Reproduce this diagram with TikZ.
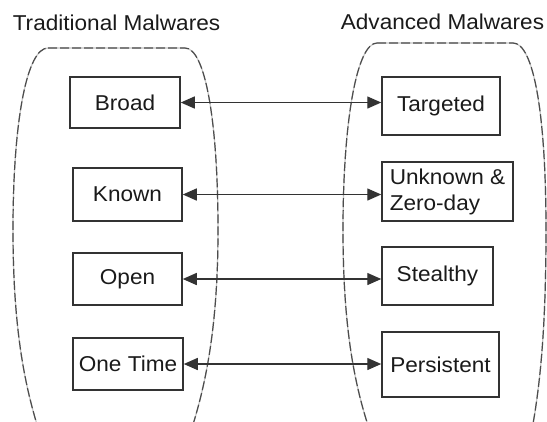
\documentclass[tikz,border=0pt]{standalone}
\usepackage{fontspec}
\setmainfont[FakeStretch=1.05]{Liberation Sans}
\usetikzlibrary{arrows.meta}
\definecolor{ink}{HTML}{1A1A1A}
\definecolor{edge}{HTML}{333333}
\tikzset{
  px/.style={x=1pt,y=-1pt},
  label text/.style={font=\fontsize{21.5}{26}\selectfont, text=ink},
  itembox/.style={draw=edge, line width=1.5pt, fill=white, inner sep=4pt,
    label text},
  grouphalo/.style={draw=black!22, line width=1.2pt},
  groupline/.style={draw=black!70, line width=1.2pt, dash pattern=on 9pt off 3pt},
  link/.style={draw=edge, line width=1.4pt,
    {Triangle[length=14pt,width=12pt]}-{Triangle[length=14pt,width=12pt]}},
}
\begin{document}
\begin{tikzpicture}[px]
\useasboundingbox (0,0) rectangle (547,421);
\fill[white] (0,0) rectangle (547,421);

% group outlines (open towards the bottom edge)
\begin{scope}
\clip (0,0) rectangle (547,421);
\def\leftgroup{(48,48) -- (185,48) .. controls (205,48) and (218,120) .. (218,230)
  .. controls (218,330) and (205,390) .. (188,440) -- (42,440)
  .. controls (25,390) and (13,330) .. (13,230)
  .. controls (13,120) and (27,48) .. (48,48) -- cycle}
\def\rightgroup{(377,43) -- (513,43) .. controls (533,43) and (546,110) .. (546,230)
  .. controls (546,330) and (540,390) .. (530,440) -- (373,440)
  .. controls (355,390) and (343,330) .. (343,230)
  .. controls (343,120) and (357,43) .. (377,43) -- cycle}
\path[grouphalo] \leftgroup;
\path[groupline] \leftgroup;
\path[grouphalo] \rightgroup;
\path[groupline] \rightgroup;
\end{scope}

% column titles
\node[label text, anchor=base] (tradTitle) at (116.5,30) {Traditional Malwares};
\node[label text, anchor=base] (advTitle) at (442.5,29) {Advanced Malwares};

% traditional characteristics
\node[itembox, minimum width=110pt, minimum height=51pt] (broad) at (125,102.5) {Broad};
\node[itembox, minimum width=109pt, minimum height=53pt] (known) at (127.5,194.5) {Known};
\node[itembox, minimum width=109pt, minimum height=52pt] (open) at (127.5,279) {Open};
\node[itembox, minimum width=110pt, minimum height=52pt, inner sep=2pt] (onetime) at (128,364) {One Time};

% advanced characteristics
\node[itembox, minimum width=118pt, minimum height=58pt] (targeted) at (441,106) {Targeted};
\node[itembox, minimum width=131pt, minimum height=59pt, align=left, inner sep=3pt] (unknown) at (447.5,191.5) {Unknown \&\\Zero-day};
\node[itembox, minimum width=111pt, minimum height=58pt] (stealthy) at (437.5,276) {Stealthy};
\node[itembox, minimum width=117pt, minimum height=65pt, inner sep=2pt] (persistent) at (440.5,364.5) {Persistent};

% correspondences
\draw[link] (broad.east) -- (broad.east -| targeted.west);
\draw[link] (known.east) -- (known.east -| unknown.west);
\draw[link] (open.east) -- (open.east -| stealthy.west);
\draw[link] (onetime.east) -- (onetime.east -| persistent.west);
\end{tikzpicture}
\end{document}
